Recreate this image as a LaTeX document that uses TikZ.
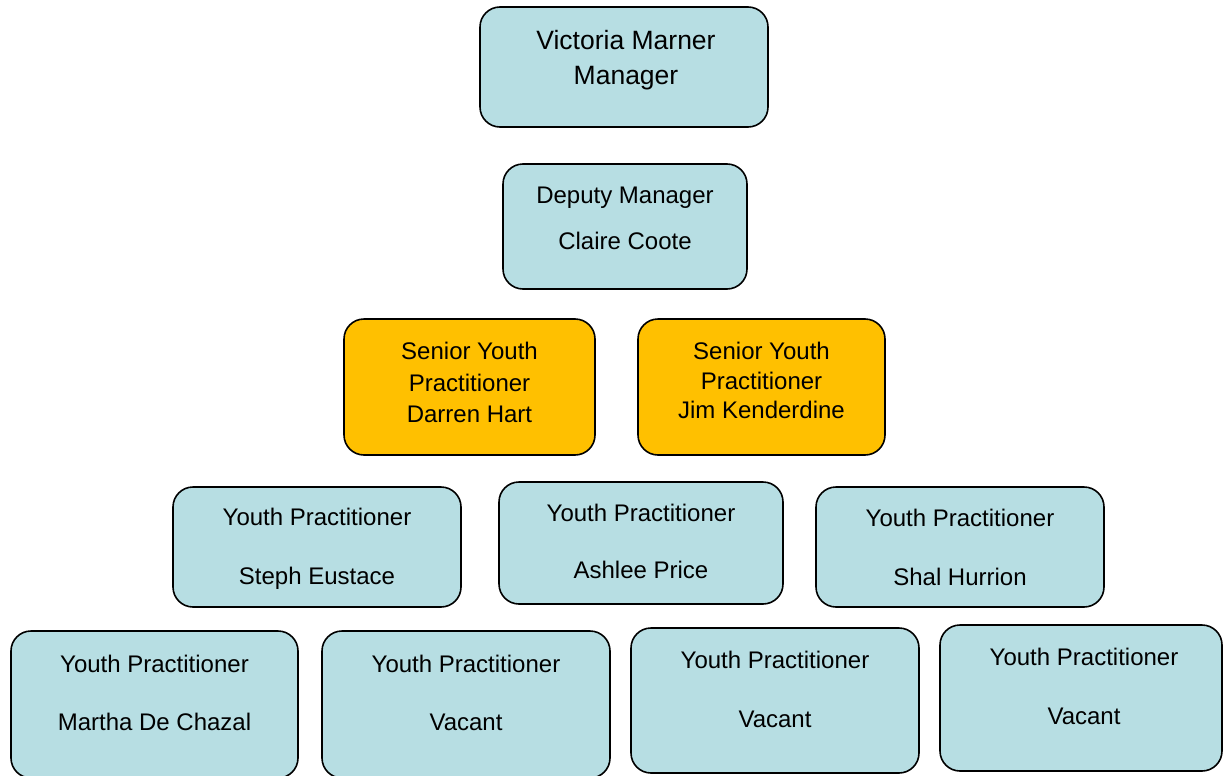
\documentclass[tikz,border=0pt]{standalone}
\usepackage{fontspec}
\setmainfont{Liberation Sans}

\definecolor{boxblue}{RGB}{183,222,227}
\definecolor{boxgold}{RGB}{255,192,0}

\tikzset{blue_box/.style={draw=black, line width=1.6pt, rounded corners=20pt, fill=boxblue, inner sep=0pt},
         gold_box/.style={blue_box, fill=boxgold},
         box_text/.style={align=center, inner sep=0pt, font=\fontsize{24}{#1}\selectfont},
         box_text/.default=58}

\begin{document}
\begin{tikzpicture}[x=1pt, y=-1pt]
    \fill[white] (0,0) rectangle (1223,776);
    \useasboundingbox (0,0) rectangle (1223,776);

    % manager and deputy
    \node[blue_box, minimum width=288pt, minimum height=120pt] (mgr) at (624,67) {};
    \node[box_text=35, font=\fontsize{26.5}{35}\selectfont] (mgr_t) at (626,60) {Victoria Marner\\Manager};
    \node[blue_box, minimum width=244pt, minimum height=125pt] (dep) at (625,226.5) {};
    \node[box_text=46] (dep_t) at (625,218) {Deputy Manager\\Claire Coote};

    % senior youth practitioners
    \node[gold_box, minimum width=251pt, minimum height=136pt] (sr1) at (469.5,387) {};
    \node[box_text=31.5] (sr1_t) at (469.5,382.5) {Senior Youth\\Practitioner\\Darren Hart};
    \node[gold_box, minimum width=247pt, minimum height=136pt] (sr2) at (761.5,387) {};
    \node[box_text=29.5] (sr2_t) at (761.5,380.5) {Senior Youth\\Practitioner\\Jim Kenderdine};

    % youth practitioners, first row
    \node[blue_box, minimum width=288pt, minimum height=120pt] (yp1) at (317,547) {};
    \node[box_text=59] (yp1_t) at (317,548.5) {Youth Practitioner\\Steph Eustace};
    \node[blue_box, minimum width=284pt, minimum height=122pt] (yp2) at (641,543) {};
    \node[box_text=57] (yp2_t) at (641,541.5) {Youth Practitioner\\Ashlee Price};
    \node[blue_box, minimum width=288pt, minimum height=120pt] (yp3) at (960,547) {};
    \node[box_text=59] (yp3_t) at (960,547.5) {Youth Practitioner\\Shal Hurrion};

    % youth practitioners, second row
    \node[blue_box, minimum width=287pt, minimum height=147pt] (yp4) at (154.5,704.5) {};
    \node[box_text=58] (yp4_t) at (154.5,693) {Youth Practitioner\\Martha De Chazal};
    \node[blue_box, minimum width=288pt, minimum height=147pt] (yp5) at (466,704.5) {};
    \node[box_text=58] (yp5_t) at (466,693) {Youth Practitioner\\Vacant};
    \node[blue_box, minimum width=288pt, minimum height=145pt] (yp6) at (775,700.5) {};
    \node[box_text=59] (yp6_t) at (775,689.5) {Youth Practitioner\\Vacant};
    \node[blue_box, minimum width=282pt, minimum height=146pt] (yp7) at (1081,698) {};
    \node[box_text=59] (yp7_t) at (1084,686.5) {Youth Practitioner\\Vacant};

\end{tikzpicture}
\end{document}
